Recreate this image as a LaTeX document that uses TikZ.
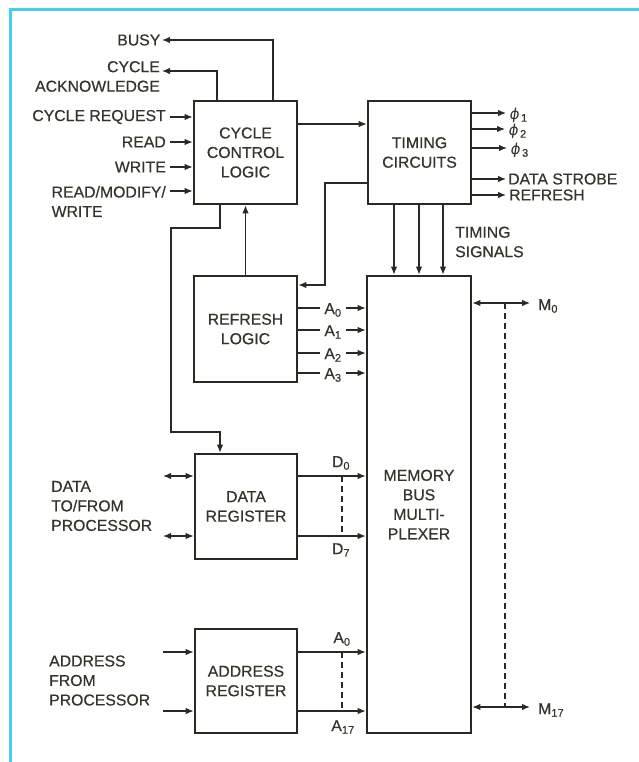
\documentclass[tikz,border=0pt]{standalone}
\usepackage{fontspec}
\setmainfont{Liberation Sans}[FakeBold=0.4]
\newfontfamily\phifont{DejaVu Sans}[FakeSlant=0.15]
\usetikzlibrary{arrows.meta}
\definecolor{txtc}{HTML}{34342A}
\definecolor{linec}{HTML}{2A2A22}
\definecolor{framec}{HTML}{3FD2EA}
\newcommand\phisym[1]{{\phifont\fontsize{15bp}{18bp}\selectfont ϕ}\kern2bp\textsubscript{#1}}
\begin{document}
\begin{tikzpicture}[x=1bp,y=-1bp,
  every node/.style={text=txtc, font=\fontsize{15.8bp}{19.5bp}\selectfont},
  blk/.style={draw=linec, line width=2.6bp, fill=white, minimum width=103bp, minimum height=103bp, align=center, inner sep=0},
  conn/.style={draw=linec, line width=1.3bp},
  arw/.style={-{Latex[length=8bp,width=6.5bp]}},
  barw/.style={{Latex[length=8bp,width=6.5bp]}-{Latex[length=8bp,width=6.5bp]}},
  lbl/.style={inner sep=0},
  dsh/.style={draw=linec, line width=1.3bp, dash pattern=on 6bp off 4bp}
]
\fill[white] (0,0) rectangle (639,762);
\useasboundingbox (0,0) rectangle (639,762);
\draw[framec, line width=3bp] (639,10) -- (10,10) -- (10,762);

% blocks
\node[blk] (ccl) at (245.5,152.5) {CYCLE\\CONTROL\\LOGIC};
\node[blk] (tim) at (419.5,152.5) {TIMING\\CIRCUITS};
\node[blk, minimum height=106bp] (ref) at (245.5,329) {REFRESH\\LOGIC};
\node[blk, minimum width=104bp, minimum height=457bp] (mux) at (419,504.5) {MEMORY\\BUS\\MULTI-\\PLEXER};
\node[blk, minimum width=102bp, minimum height=105bp] (dreg) at (246,506.5) {DATA\\REGISTER};
\node[blk, minimum width=102bp, minimum height=104bp] (areg) at (246,681) {ADDRESS\\REGISTER};

% labels left of cycle control
\node[lbl, anchor=east, inner xsep=1.5bp] (busy) at (162,40) {BUSY};
\node[lbl, anchor=east, align=right, inner xsep=2bp] (ack) at (162,76.5) {CYCLE\\ACKNOWLEDGE};
\node[lbl, anchor=east, inner xsep=4bp] (creq) at (170,117) {CYCLE REQUEST};
\node[lbl, anchor=east, inner xsep=4bp] (read) at (170,142) {READ};
\node[lbl, anchor=east, inner xsep=4bp] (write) at (170,167) {WRITE};
\node[lbl, anchor=east, align=left, inner xsep=4bp] (rmw) at (170,201.5) {READ/MODIFY/\\WRITE};

\draw[conn,arw] ([xshift=27.5bp]ccl.north) |- (busy.east);
\draw[conn,arw] ([xshift=-28.5bp]ccl.north) |- (ack.east |- 0,71);
\draw[conn,arw] (creq.east) -- (ccl.west |- creq.east);
\draw[conn,arw] (read.east) -- (ccl.west |- read.east);
\draw[conn,arw] (write.east) -- (ccl.west |- write.east);
\draw[conn,arw] (rmw.east |- 0,191) -- (ccl.west |- 0,191);

% cycle control connections
\draw[conn,arw] (ccl.east |- 0,124) -- (tim.west |- 0,124);
\draw[conn,arw] (ref.north) -- (ccl.south);
\draw[conn,arw] ([xshift=-25.5bp]ccl.south) |- (171,228) |- (220,432) -- (dreg.north -| 220,0);
\draw[conn,arw] (tim.west |- 0,183) -| (325,285) -- (ref.east |- 0,285);

% timing outputs
\node[lbl, anchor=west, inner xsep=3bp] (p1) at (506,115) {\phisym{1}};
\node[lbl, anchor=west, inner xsep=3bp] (p2) at (505,131) {\phisym{2}};
\node[lbl, anchor=west, inner xsep=3bp] (p3) at (507,150) {\phisym{3}};
\node[lbl, anchor=west, inner xsep=2bp] (dstr) at (506,179) {DATA STROBE};
\node[lbl, anchor=west, inner xsep=3bp] (rfsh) at (506,195) {REFRESH};
\draw[conn,arw] (tim.east |- 0,113) -- (p1.west |- 0,113);
\draw[conn,arw] (tim.east |- 0,129) -- (p2.west |- 0,129);
\draw[conn,arw] (tim.east |- 0,148) -- (p3.west |- 0,148);
\draw[conn,arw] (tim.east |- dstr.west) -- (dstr.west);
\draw[conn,arw] (tim.east |- rfsh.west) -- (rfsh.west);

\node[lbl, anchor=west, align=left] (tsig) at (455,242) {TIMING\\SIGNALS};
\foreach \x in {394,419,443}
  \draw[conn,arw] (tim.south -| \x,0) -- (mux.north -| \x,0);

% refresh address outputs
\foreach \y/\i in {308/0,330/1,353/2,373/3} {
  \node[lbl, inner xsep=4bp] (ra\i) at (333,\y+2) {A\textsubscript{\i}};
  \draw[conn] (ref.east |- 0,\y) -- (ra\i.west |- 0,\y);
  \draw[conn,arw] (ra\i.east |- 0,\y) -- (mux.west |- 0,\y);
}

% data register
\node[lbl, anchor=west, align=left] (dtp) at (51,506) {DATA\\TO/FROM\\PROCESSOR};
\coordinate (dl0) at (163,476);
\coordinate (dl7) at (163,536);
\draw[conn,barw] (dl0) -- (dreg.west |- dl0);
\draw[conn,barw] (dl7) -- (dreg.west |- dl7);
\coordinate (dt0) at (342,476);
\coordinate (dt7) at (342,536);
\draw[conn,arw] (dreg.east |- dt0) -- (mux.west |- dt0);
\draw[conn,arw] (dreg.east |- dt7) -- (mux.west |- dt7);
\draw[dsh] (dt0) -- (dt7);
\node[lbl] (d0) at (341,463) {D\textsubscript{0}};
\node[lbl] (d7) at (341,550) {D\textsubscript{7}};

% address register
\node[lbl, anchor=west, align=left] (afp) at (49,680.5) {ADDRESS\\FROM\\PROCESSOR};
\coordinate (al0) at (163,652);
\coordinate (al1) at (163,711);
\draw[conn,arw] (al0) -- (areg.west |- al0);
\draw[conn,arw] (al1) -- (areg.west |- al1);
\coordinate (at0) at (342,652);
\coordinate (at17) at (342,711);
\draw[conn,arw] (areg.east |- at0) -- (mux.west |- at0);
\draw[conn,arw] (areg.east |- at17) -- (mux.west |- at17);
\draw[dsh] (at0) -- (at17);
\node[lbl] (a0) at (342,639) {A\textsubscript{0}};
\node[lbl] (a17) at (343,727) {A\textsubscript{17}};

% memory outputs
\coordinate (m0e) at (530,303);
\coordinate (m17e) at (530,707);
\draw[conn,barw] (mux.east |- m0e) -- (m0e);
\draw[conn,barw] (mux.east |- m17e) -- (m17e);
\coordinate (mt0) at (505,303);
\coordinate (mt17) at (505,707);
\draw[dsh] (mt0) -- (mt17);
\node[lbl, anchor=west] (m0) at (538,306) {M\textsubscript{0}};
\node[lbl, anchor=west] (m17) at (538,710) {M\textsubscript{17}};
\end{tikzpicture}
\end{document}
